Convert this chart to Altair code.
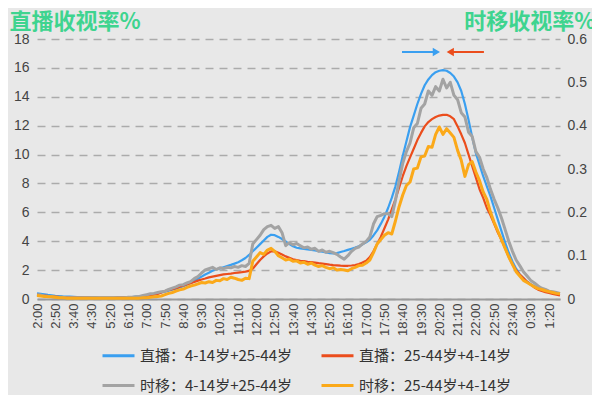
import altair as alt
import pandas as pd

# sampling: one value every 10 minutes starting at 2:00
STEP_MIN = 10

SERIES = [
    "直播：4-14岁+25-44岁",
    "直播：25-44岁+4-14岁",
    "时移：4-14岁+25-44岁",
    "时移：25-44岁+4-14岁",
]
COLORS = ["#3a9ff0", "#eb4d1c", "#a3a3a3", "#fba919"]
WIDTHS = [2.2, 2.2, 3.0, 3.0]

# 直播 (left axis, %)
LIVE_A = [
    0.40, 0.36, 0.32, 0.28, 0.25, 0.22,
    0.20, 0.18, 0.17, 0.16, 0.15, 0.14,
    0.13, 0.12, 0.12, 0.11, 0.11, 0.10,
    0.10, 0.10, 0.10, 0.10, 0.11, 0.11,
    0.12, 0.13, 0.14, 0.16, 0.18, 0.21,
    0.25, 0.30, 0.35, 0.40, 0.45, 0.50,
    0.58, 0.65, 0.72, 0.80, 0.88, 0.98,
    1.10, 1.25, 1.40, 1.55, 1.70, 1.82,
    1.95, 2.05, 2.12, 2.20, 2.28, 2.36,
    2.45, 2.55, 2.68, 2.84, 3.05, 3.30,
    3.55, 3.80, 4.05, 4.30, 4.45, 4.42,
    4.30, 4.15, 3.98, 3.80, 3.65, 3.55,
    3.50, 3.47, 3.43, 3.40, 3.36, 3.32,
    3.28, 3.22, 3.18, 3.15, 3.18, 3.25,
    3.32, 3.40, 3.48, 3.56, 3.65, 3.78,
    3.92, 4.10, 4.40, 4.75, 5.20, 5.70,
    6.30, 7.00, 7.80, 8.80, 9.90, 10.90,
    11.90, 12.70, 13.50, 14.20, 14.80, 15.20,
    15.50, 15.70, 15.80, 15.85, 15.80, 15.65,
    15.40, 15.00, 14.40, 13.50, 12.40, 11.20,
    10.10, 9.30, 8.50, 7.80, 7.10, 6.30,
    5.50, 4.70, 3.90, 3.20, 2.60, 2.10,
    1.70, 1.45, 1.20, 1.02, 0.88, 0.76,
    0.66, 0.58, 0.51, 0.45, 0.40, 0.36,
]
LIVE_B = [
    0.30, 0.27, 0.24, 0.21, 0.19, 0.17,
    0.15, 0.14, 0.13, 0.12, 0.11, 0.10,
    0.10, 0.09, 0.09, 0.08, 0.08, 0.08,
    0.08, 0.08, 0.08, 0.08, 0.09, 0.09,
    0.10, 0.11, 0.12, 0.13, 0.15, 0.17,
    0.20, 0.25, 0.30, 0.35, 0.45, 0.55,
    0.62, 0.68, 0.75, 0.85, 0.93, 1.02,
    1.10, 1.18, 1.27, 1.35, 1.42, 1.50,
    1.55, 1.60, 1.65, 1.70, 1.73, 1.76,
    1.80, 1.83, 1.86, 1.90, 1.95, 2.10,
    2.40, 2.70, 2.95, 3.15, 3.30, 3.30,
    3.20, 3.08, 2.95, 2.85, 2.75, 2.70,
    2.65, 2.62, 2.58, 2.55, 2.52, 2.48,
    2.45, 2.42, 2.38, 2.35, 2.33, 2.31,
    2.30, 2.30, 2.32, 2.35, 2.42, 2.52,
    2.65, 2.90, 3.30, 3.80, 4.30, 4.90,
    5.50, 6.20, 6.90, 7.70, 8.50, 9.20,
    9.80, 10.40, 11.00, 11.50, 11.95, 12.25,
    12.45, 12.60, 12.70, 12.75, 12.75, 12.65,
    12.45, 11.95, 11.40, 10.80, 10.00, 9.20,
    8.40, 7.60, 7.00, 6.30, 5.80, 5.20,
    4.60, 4.10, 3.50, 2.90, 2.40, 2.00,
    1.70, 1.45, 1.20, 1.00, 0.80, 0.65,
    0.55, 0.48, 0.42, 0.35, 0.30, 0.25,
]
# 时移 (right axis, %)
SHIFT_A = [
    0.010, 0.009, 0.007, 0.006, 0.005, 0.004,
    0.004, 0.004, 0.003, 0.003, 0.003, 0.003,
    0.003, 0.003, 0.003, 0.003, 0.003, 0.003,
    0.003, 0.003, 0.003, 0.003, 0.003, 0.003,
    0.003, 0.004, 0.004, 0.005, 0.006, 0.008,
    0.010, 0.012, 0.013, 0.015, 0.017, 0.018,
    0.022, 0.025, 0.028, 0.032, 0.033, 0.037,
    0.040, 0.047, 0.052, 0.060, 0.067, 0.070,
    0.073, 0.068, 0.072, 0.070, 0.073, 0.072,
    0.075, 0.073, 0.077, 0.075, 0.082, 0.127,
    0.137, 0.147, 0.160, 0.167, 0.170, 0.163,
    0.167, 0.153, 0.123, 0.130, 0.125, 0.128,
    0.123, 0.118, 0.120, 0.115, 0.117, 0.110,
    0.113, 0.108, 0.110, 0.107, 0.103, 0.097,
    0.092, 0.100, 0.110, 0.117, 0.120, 0.127,
    0.133, 0.143, 0.173, 0.190, 0.193, 0.197,
    0.197, 0.190, 0.227, 0.273, 0.313, 0.340,
    0.360, 0.395, 0.405, 0.440, 0.450, 0.480,
    0.470, 0.490, 0.480, 0.507, 0.487, 0.500,
    0.470, 0.460, 0.430, 0.420, 0.385, 0.375,
    0.340, 0.327, 0.300, 0.280, 0.253, 0.230,
    0.210, 0.187, 0.160, 0.133, 0.110, 0.090,
    0.077, 0.063, 0.053, 0.043, 0.037, 0.030,
    0.025, 0.022, 0.018, 0.017, 0.015, 0.013,
]
SHIFT_B = [
    0.008, 0.007, 0.006, 0.005, 0.005, 0.004,
    0.003, 0.003, 0.002, 0.002, 0.002, 0.002,
    0.002, 0.002, 0.002, 0.002, 0.002, 0.002,
    0.002, 0.002, 0.002, 0.002, 0.002, 0.002,
    0.002, 0.002, 0.002, 0.002, 0.002, 0.003,
    0.003, 0.004, 0.005, 0.006, 0.007, 0.010,
    0.013, 0.015, 0.018, 0.021, 0.023, 0.027,
    0.030, 0.032, 0.035, 0.038, 0.037, 0.040,
    0.038, 0.043, 0.042, 0.047, 0.045, 0.050,
    0.048, 0.045, 0.043, 0.048, 0.047, 0.087,
    0.097, 0.107, 0.103, 0.113, 0.117, 0.110,
    0.100, 0.095, 0.090, 0.092, 0.087, 0.088,
    0.083, 0.085, 0.080, 0.083, 0.078, 0.075,
    0.077, 0.073, 0.070, 0.072, 0.067, 0.068,
    0.067, 0.065, 0.070, 0.073, 0.077, 0.078,
    0.083, 0.090, 0.107, 0.127, 0.137, 0.147,
    0.153, 0.150, 0.180, 0.213, 0.240, 0.262,
    0.270, 0.300, 0.302, 0.328, 0.330, 0.352,
    0.350, 0.380, 0.397, 0.380, 0.393, 0.383,
    0.373, 0.343, 0.320, 0.283, 0.310, 0.317,
    0.293, 0.273, 0.247, 0.230, 0.200, 0.177,
    0.157, 0.137, 0.117, 0.097, 0.080, 0.063,
    0.053, 0.043, 0.038, 0.033, 0.028, 0.024,
    0.022, 0.019, 0.017, 0.015, 0.013, 0.012,
]

X_TICKS = list(range(0, 1401, 50))          # every 50 minutes from 2:00
LEFT_TICKS = list(range(0, 19, 2))
RIGHT_TICKS = [0, 0.1, 0.2, 0.3, 0.4, 0.5, 0.6]

# peak arrows (minutes after 2:00, left-axis level)
ARROW_Y = 17.1
ARROW_START = [998, 1222]
ARROW_END = [1092, 1130]
ARROW_SHAPES = ["triangle-right", "triangle-left"]

GREEN = "#3ed48f"
FONT = "Liberation Sans"
CJK = "Noto Sans CJK SC"

rows = []
for name, vals in zip(SERIES, [LIVE_A, LIVE_B, SHIFT_A, SHIFT_B]):
    for i, v in enumerate(vals):
        rows.append({"s": name, "t": i * STEP_MIN, "v": v})
df = pd.DataFrame(rows)

label_expr = ("toString((floor(datum.value/60)+2)%24) + ':' + "
              "format(datum.value%60, '02d')")

x_enc = alt.X(
    "t:Q",
    scale=alt.Scale(domain=[0, 1430], nice=False, zero=False),
    axis=alt.Axis(
        values=X_TICKS, labelExpr=label_expr, labelAngle=270, labelOverlap=False,
        ticks=False, grid=False, domainColor="#9a9a9a", domainWidth=2,
        labelFont=FONT, labelFontSize=13, labelColor="#444", labelPadding=4,
        title=None,
    ),
)
color_enc = alt.Color(
    "s:N",
    scale=alt.Scale(domain=SERIES, range=COLORS),
    legend=alt.Legend(
        title=None, orient="none", legendX=64, legendY=299, columns=2,
        direction="horizontal",
        symbolType="stroke", symbolSize=1024, symbolStrokeWidth=3,
        labelFont=CJK, labelFontSize=15, labelColor="#333", labelLimit=400,
        labelOffset=4, columnPadding=22, rowPadding=4, padding=0,
    ),
)

y_left = alt.Y(
    "v:Q",
    scale=alt.Scale(domain=[0, 18], nice=False),
    axis=alt.Axis(
        values=LEFT_TICKS, grid=True, gridDash=[8, 6], gridColor="#ababab",
        gridWidth=1.5, domain=False, ticks=False, labelPadding=8,
        labelOverlap=False,
        labelFont=FONT, labelFontSize=14, labelColor="#444",
        title="直播收视率%", titleAngle=0, titleAlign="left",
        titleBaseline="alphabetic", titleX=-28, titleY=-11,
        titleFont=CJK, titleFontSize=22, titleFontWeight="bold", titleColor=GREEN,
    ),
)
y_right = alt.Y(
    "v:Q",
    scale=alt.Scale(domain=[0, 0.6], nice=False),
    axis=alt.Axis(
        orient="right", values=RIGHT_TICKS, format=".1~f", grid=False,
        domain=False, ticks=False, labelPadding=7, labelOverlap=False,
        labelFont=FONT, labelFontSize=14, labelColor="#444",
        title="时移收视率%", titleAngle=0, titleAlign="right",
        titleBaseline="alphabetic", titleX=35, titleY=-11,
        titleFont=CJK, titleFontSize=22, titleFontWeight="bold", titleColor=GREEN,
    ),
)

base = alt.Chart(df)


def series_layer(idx, y):
    return base.transform_filter(alt.datum.s == SERIES[idx]).mark_line(
        strokeWidth=WIDTHS[idx], strokeJoin="round"
    ).encode(x=x_enc, y=y, color=color_enc)


arrow_df = pd.DataFrame({
    "t": ARROW_START,
    "t2": ARROW_END,
    "v": [ARROW_Y, ARROW_Y],
    "c": [COLORS[0], COLORS[1]],
})
head_df = pd.DataFrame({
    "t": ARROW_END,
    "v": [ARROW_Y, ARROW_Y],
    "c": [COLORS[0], COLORS[1]],
    "shape": ARROW_SHAPES,
})
arrow_lines = alt.Chart(arrow_df).mark_rule(strokeWidth=2).encode(
    x=x_enc, x2="t2:Q", y=y_left, color=alt.Color("c:N", scale=None)
)
arrow_heads = alt.Chart(head_df).mark_point(filled=True, size=70, opacity=1).encode(
    x=x_enc, y=y_left, color=alt.Color("c:N", scale=None),
    shape=alt.Shape("shape:N", scale=None),
)

live = alt.layer(series_layer(0, y_left), series_layer(1, y_left),
                 arrow_lines, arrow_heads)
shift = alt.layer(series_layer(2, y_right), series_layer(3, y_right))

chart = alt.layer(live, shift).resolve_scale(y="independent").properties(
    width=523, height=260,
    padding={"left": 29, "top": 31, "right": 32, "bottom": 96},
    autosize=alt.AutoSizeParams(type="none"),
    background="#e8e8e8",
).configure_view(strokeWidth=0)

chart.save("out.html", embed_options={"renderer": "svg", "actions": False})
